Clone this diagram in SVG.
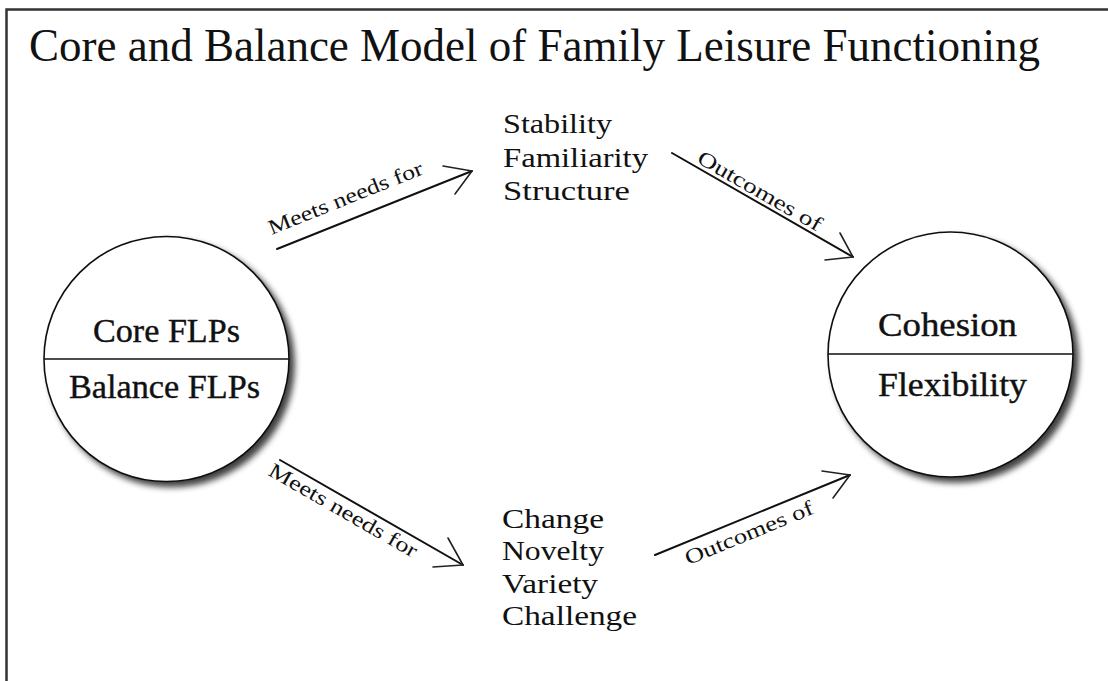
<svg xmlns="http://www.w3.org/2000/svg" width="1108" height="681" viewBox="0 0 1108 681">
<defs>
<style>
.t{font-family:"Liberation Serif","Times New Roman",serif;fill:#111;}
.title{font-size:46px;}
.circ{font-size:33px;stroke:#111;stroke-width:0.4px;}
.word{font-size:28px;}
.lab{font-size:21px;}
.ln{stroke:#111;stroke-width:2;fill:none;stroke-linecap:round;}
.ah{stroke:#222;stroke-width:1.6;fill:none;stroke-linecap:round;stroke-linejoin:round;}
.node{fill:#fff;stroke:#111;stroke-width:1.6;}
</style>
<filter id="sh" x="-20%" y="-20%" width="150%" height="150%">
<feGaussianBlur in="SourceAlpha" stdDeviation="3"/>
<feOffset dx="5" dy="5" result="b"/>
<feComponentTransfer><feFuncA type="linear" slope="0.75"/></feComponentTransfer>
<feMerge><feMergeNode/><feMergeNode in="SourceGraphic"/></feMerge>
</filter>
</defs>
<rect x="0" y="0" width="1108" height="681" fill="#fff"/>
<path d="M6.5 681 V9.5 H1108" fill="none" stroke="#333" stroke-width="2.5"/>
<text id="title" class="t title" x="29" y="61" textLength="1011" lengthAdjust="spacingAndGlyphs">Core and Balance Model of Family Leisure Functioning</text>

<g id="core-balance">
<circle class="node" cx="166.5" cy="359" r="122.5" filter="url(#sh)"/>
<line x1="44" y1="359" x2="289" y2="359" stroke="#111" stroke-width="1.6"/>
<text class="t circ" x="93" y="342" textLength="147" lengthAdjust="spacingAndGlyphs">Core FLPs</text>
<text class="t circ" x="69" y="398" textLength="191" lengthAdjust="spacingAndGlyphs">Balance FLPs</text>
</g>

<g id="cohesion-flexibility">
<circle class="node" cx="950.5" cy="354.5" r="122.5" filter="url(#sh)"/>
<line x1="828" y1="354" x2="1073" y2="354" stroke="#111" stroke-width="1.6"/>
<text class="t circ" x="878" y="336" textLength="139" lengthAdjust="spacingAndGlyphs">Cohesion</text>
<text class="t circ" x="878" y="396" textLength="149" lengthAdjust="spacingAndGlyphs">Flexibility</text>
</g>

<g id="stability-group">
<text class="t word" x="503" y="133" textLength="109" lengthAdjust="spacingAndGlyphs">Stability</text>
<text class="t word" x="503" y="167" textLength="145" lengthAdjust="spacingAndGlyphs">Familiarity</text>
<text class="t word" x="503" y="200" textLength="127" lengthAdjust="spacingAndGlyphs">Structure</text>
</g>

<g id="change-group">
<text class="t word" x="502" y="528" textLength="102" lengthAdjust="spacingAndGlyphs">Change</text>
<text class="t word" x="502" y="560" textLength="102" lengthAdjust="spacingAndGlyphs">Novelty</text>
<text class="t word" x="502" y="593" textLength="96" lengthAdjust="spacingAndGlyphs">Variety</text>
<text class="t word" x="502" y="625" textLength="135" lengthAdjust="spacingAndGlyphs">Challenge</text>
</g>

<g id="connectors">
<line class="ln" x1="277" y1="249" x2="472" y2="171"/>
<polyline class="ah" points="443,166 472,171 455,194"/>
<text class="t lab" x="271.4" y="235" transform="rotate(-21.8 271.4 235)" textLength="165" lengthAdjust="spacingAndGlyphs">Meets needs for</text>

<line class="ln" x1="280" y1="460" x2="463" y2="565"/>
<polyline class="ah" points="448,538 463,565 433,567"/>
<text class="t lab" x="267" y="474.5" transform="rotate(29.85 267 474.5)" textLength="168" lengthAdjust="spacingAndGlyphs">Meets needs for</text>

<line class="ln" x1="672" y1="153" x2="853" y2="257"/>
<polyline class="ah" points="840,233 853,257 825,260"/>
<text class="t lab" x="695.7" y="162" transform="rotate(29.9 695.7 162)" textLength="140" lengthAdjust="spacingAndGlyphs">Outcomes of</text>

<line class="ln" x1="655" y1="555" x2="850" y2="475"/>
<polyline class="ah" points="822,471 850,475 833,498"/>
<text class="t lab" x="688.3" y="565.2" transform="rotate(-22.3 688.3 565.2)" textLength="137" lengthAdjust="spacingAndGlyphs">Outcomes of</text>
</g>
</svg>
